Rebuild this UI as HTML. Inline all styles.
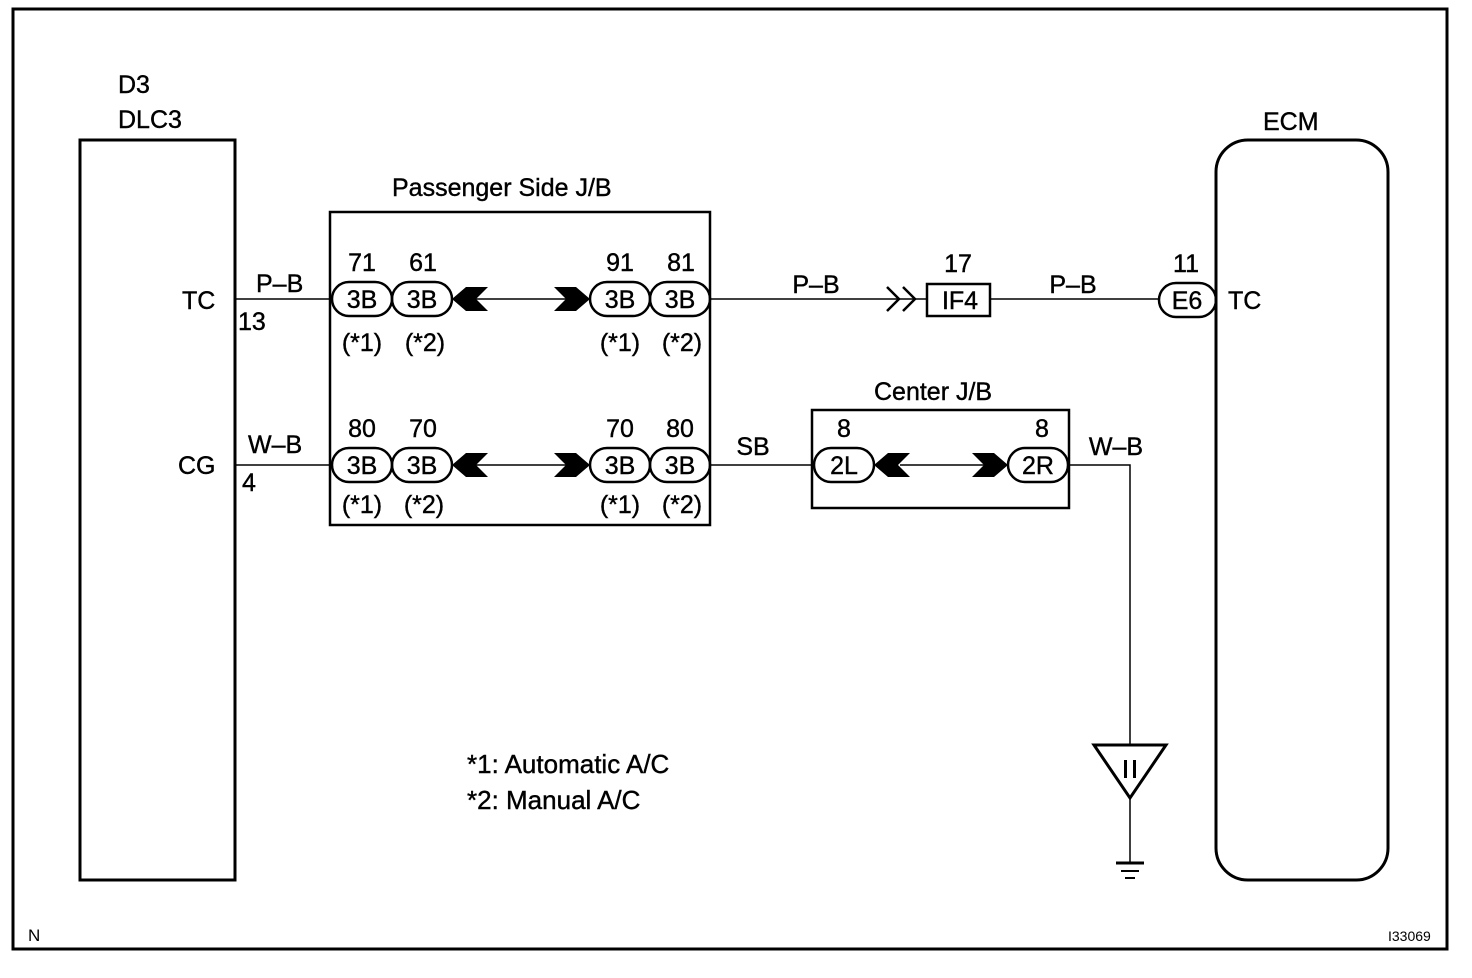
<!DOCTYPE html>
<html><head><meta charset="utf-8"><style>
html,body{margin:0;padding:0;background:#fff;}
svg{display:block;}
text{font-family:"Liberation Sans",Arial,sans-serif;font-size:25px;fill:#000;stroke:#000;stroke-width:0.4;}
</style></head><body>
<svg width="1472" height="978" viewBox="0 0 1472 978" xmlns="http://www.w3.org/2000/svg">
<g fill="none" stroke="#000">
<rect x="13" y="9" width="1434" height="940" stroke-width="3"/>
<rect x="80" y="140" width="155" height="740" stroke-width="3"/>
<rect x="1216" y="140" width="172" height="740" rx="32" stroke-width="3"/>
<rect x="330" y="212" width="380" height="313" stroke-width="2.5"/>
<rect x="812" y="410" width="257" height="98" stroke-width="2.5"/>
<line x1="235" y1="299" x2="332" y2="299" stroke-width="1.5"/>
<line x1="235" y1="465" x2="332" y2="465" stroke-width="1.5"/>
<line x1="476" y1="299" x2="566" y2="299" stroke-width="1.5"/>
<line x1="476" y1="465" x2="566" y2="465" stroke-width="1.5"/>
<line x1="710" y1="299" x2="905" y2="299" stroke-width="1.5"/>
<line x1="990" y1="299" x2="1159" y2="299" stroke-width="1.5"/>
<line x1="710" y1="465" x2="814" y2="465" stroke-width="1.5"/>
<line x1="900" y1="465" x2="990" y2="465" stroke-width="1.5"/>
<polyline points="1068,465 1130,465 1130,745" stroke-width="1.5"/>
<line x1="1130" y1="798" x2="1130" y2="862" stroke-width="1.5"/>
<line x1="1116" y1="863" x2="1144" y2="863" stroke-width="3"/>
<line x1="1121" y1="871" x2="1139" y2="871" stroke-width="2"/>
<line x1="1125" y1="878" x2="1135" y2="878" stroke-width="2"/>
<polygon points="1094,745 1166,745 1130,798" stroke-width="3"/>
<rect x="332" y="282" width="60" height="34" rx="17" stroke-width="2.5"/>
<rect x="392" y="282" width="60" height="34" rx="17" stroke-width="2.5"/>
<rect x="590" y="282" width="60" height="34" rx="17" stroke-width="2.5"/>
<rect x="650" y="282" width="60" height="34" rx="17" stroke-width="2.5"/>
<rect x="332" y="448" width="60" height="34" rx="17" stroke-width="2.5"/>
<rect x="392" y="448" width="60" height="34" rx="17" stroke-width="2.5"/>
<rect x="590" y="448" width="60" height="34" rx="17" stroke-width="2.5"/>
<rect x="650" y="448" width="60" height="34" rx="17" stroke-width="2.5"/>
<rect x="814" y="448" width="60" height="34" rx="17" stroke-width="2.5"/>
<rect x="1008" y="448" width="60" height="34" rx="17" stroke-width="2.5"/>
<rect x="1159" y="283" width="57" height="34" rx="17" stroke-width="2.5"/>
<rect x="927" y="284" width="63" height="32" stroke-width="2.5"/>
<polyline points="887,287 899,299 887,311" stroke-width="2.5"/>
<polyline points="903,287 915,299 903,311" stroke-width="2.5"/>
<line x1="905" y1="299" x2="927" y2="299" stroke-width="1.5"/>
</g>
<g fill="#000">
<polygon points="452,299 466,287 488,287 476,299 488,311 466,311"/>
<polygon points="554,287 576,287 590,299 576,311 554,311 566,299"/>
<polygon points="452,465 466,453 488,453 476,465 488,477 466,477"/>
<polygon points="554,453 576,453 590,465 576,477 554,477 566,465"/>
<polygon points="874,465 888,453 910,453 898,465 910,477 888,477"/>
<polygon points="972,453 994,453 1008,465 994,477 972,477 984,465"/>
</g>
<rect x="1124" y="760" width="3" height="18" fill="#000"/>
<rect x="1133" y="760" width="3" height="18" fill="#000"/>
<text x="118" y="93">D3</text>
<text x="118" y="128">DLC3</text>
<text x="1263" y="130">ECM</text>
<text x="392" y="196">Passenger Side J/B</text>
<text x="874" y="400">Center J/B</text>
<text x="182" y="309">TC</text>
<text x="238" y="330">13</text>
<text x="178" y="474">CG</text>
<text x="242" y="491">4</text>
<text x="256" y="292">P–B</text>
<text x="248" y="453">W–B</text>
<g text-anchor="middle">
<text x="362" y="271">71</text><text x="423" y="271">61</text>
<text x="620" y="271">91</text><text x="681" y="271">81</text>
<text x="362" y="308">3B</text><text x="422" y="308">3B</text>
<text x="620" y="308">3B</text><text x="680" y="308">3B</text>
<text x="362" y="351">(*1)</text><text x="425" y="351">(*2)</text>
<text x="620" y="351">(*1)</text><text x="682" y="351">(*2)</text>
<text x="362" y="437">80</text><text x="423" y="437">70</text>
<text x="620" y="437">70</text><text x="680" y="437">80</text>
<text x="362" y="474">3B</text><text x="422" y="474">3B</text>
<text x="620" y="474">3B</text><text x="680" y="474">3B</text>
<text x="362" y="513">(*1)</text><text x="424" y="513">(*2)</text>
<text x="620" y="513">(*1)</text><text x="682" y="513">(*2)</text>
<text x="844" y="437">8</text><text x="1042" y="437">8</text>
<text x="844" y="474">2L</text><text x="1038" y="474">2R</text>
<text x="958" y="272">17</text><text x="1186" y="272">11</text>
<text x="960" y="309">IF4</text><text x="1187" y="309">E6</text>
<text x="816" y="293">P–B</text><text x="1073" y="293">P–B</text>
<text x="753" y="455">SB</text><text x="1116" y="455">W–B</text>
</g>
<text x="1228" y="309">TC</text>
<text x="467" y="773" style="font-size:26px">*1: Automatic A/C</text>
<text x="467" y="809" style="font-size:26px">*2: Manual A/C</text>
<text x="28" y="941" style="font-size:17px;stroke-width:0">N</text>
<text x="1388" y="941" style="font-size:14px;stroke-width:0">I33069</text>
</svg>
</body></html>
